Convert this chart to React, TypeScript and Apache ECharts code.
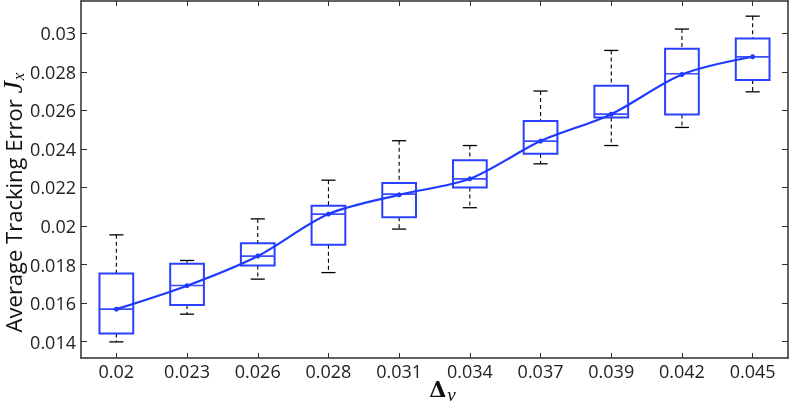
import React, { useEffect, useRef } from "react";
import * as echarts from "echarts";

const categories = ["0.02", "0.023", "0.026", "0.028", "0.031", "0.034", "0.037", "0.039", "0.042", "0.045"];
const whiskerLow = [0.01398, 0.01542, 0.01724, 0.01758, 0.01984, 0.02095, 0.02323, 0.02418, 0.02512, 0.02697];
const q1 = [0.01442, 0.01589, 0.01795, 0.01902, 0.02046, 0.022, 0.02375, 0.02564, 0.02579, 0.02759];
const median = [0.01568, 0.01691, 0.01844, 0.02062, 0.02166, 0.02245, 0.02441, 0.02581, 0.02791, 0.02879];
const q3 = [0.01753, 0.01804, 0.01911, 0.02105, 0.02223, 0.02342, 0.02545, 0.02728, 0.02921, 0.02974];
const whiskerHigh = [0.01954, 0.01821, 0.02037, 0.02238, 0.02443, 0.02418, 0.02701, 0.02912, 0.03023, 0.0309];
const mean = [0.01568, 0.0169, 0.01844, 0.02062, 0.02162, 0.02245, 0.02441, 0.02581, 0.02787, 0.02879];
const yTicks = [0.014, 0.016, 0.018, 0.02, 0.022, 0.024, 0.026, 0.028, 0.03];
const yMin = 0.013143;
const yMax = 0.031688;

const BOX_BLUE = "#2b40ff";
const LINE_BLUE = "#1f3aff";
const AXIS = "#2e2e2e";
const FONT = "Open Sans";

export default function App() {
  const ref = useRef<HTMLDivElement>(null);
  useEffect(() => {
    if (!ref.current) return;
    const chart = echarts.init(ref.current, null, { renderer: "svg" });
    const boxData = categories.map((_, i) => [i, whiskerLow[i], q1[i], median[i], q3[i], whiskerHigh[i]]);
    const fmt = (v: number) => String(+Number(v).toFixed(3));
    chart.setOption({
      animation: false,
      grid: { left: 81, right: 1, top: 1, bottom: 46, containLabel: false, outerBoundsMode: "none" },
      xAxis: [
        {
          type: "category",
          data: categories,
          position: "bottom",
          boundaryGap: true,
          axisLine: { show: true, lineStyle: { color: AXIS, width: 1.5 } },
          axisTick: { show: true, inside: true, alignWithLabel: true, length: 5, lineStyle: { color: AXIS, width: 1 } },
          axisLabel: { fontSize: 18, color: "#222", fontFamily: FONT, margin: 4 },
          splitLine: { show: false },
          name: "{d|Δ}{s|v}",
          nameLocation: "middle",
          nameGap: 15,
          nameMoveOverlap: false,
          nameTextStyle: {
            padding: [0, 0, 0, 16],
            rich: {
              d: { fontFamily: "DejaVu Serif", fontWeight: "bold", fontSize: 22, color: "#111" },
              s: { fontFamily: "Liberation Serif", fontStyle: "italic", fontSize: 19, color: "#111", padding: [12, 0, 0, 1] },
            },
          },
        },
        {
          type: "category",
          data: categories,
          position: "top",
          boundaryGap: true,
          axisLine: { show: true, lineStyle: { color: AXIS, width: 1.5 } },
          axisTick: { show: true, inside: true, alignWithLabel: true, length: 5, lineStyle: { color: AXIS, width: 1 } },
          axisLabel: { show: false },
          splitLine: { show: false },
        },
      ],
      yAxis: [
        {
          type: "value",
          min: yMin,
          max: yMax,
          position: "left",
          axisLine: { show: true, lineStyle: { color: AXIS, width: 1.5 } },
          axisTick: { show: true, inside: true, length: 6, customValues: yTicks, lineStyle: { color: AXIS, width: 1 } },
          axisLabel: { customValues: yTicks, formatter: fmt, fontSize: 18, color: "#222", fontFamily: FONT, margin: 5 },
          splitLine: { show: false },
          name: "{a|Average Tracking Error }{j|J}{x|x}",
          nameLocation: "middle",
          nameRotate: 90,
          nameGap: 54,
          nameMoveOverlap: false,
          nameTextStyle: {
            padding: [0, 46, 0, 0],
            rich: {
              a: { fontFamily: FONT, fontSize: 22, color: "#111" },
              j: { fontFamily: "Liberation Serif", fontStyle: "italic", fontSize: 28, color: "#111" },
              x: { fontFamily: "Liberation Serif", fontStyle: "italic", fontSize: 17, color: "#111", padding: [12, 0, 0, 1] },
            },
          },
        },
        {
          type: "value",
          min: yMin,
          max: yMax,
          position: "right",
          axisLine: { show: true, lineStyle: { color: AXIS, width: 1.5 } },
          axisTick: { show: true, inside: true, length: 6, customValues: yTicks, lineStyle: { color: AXIS, width: 1 } },
          axisLabel: { show: false },
          splitLine: { show: false },
        },
      ],
      series: [
        {
          type: "custom",
          xAxisIndex: 0,
          yAxisIndex: 0,
          data: boxData,
          encode: { x: 0, y: [1, 2, 3, 4, 5] },
          renderItem: (params: any, api: any) => {
            const idx = api.value(0);
            const lo = api.coord([idx, api.value(1)]);
            const a = api.coord([idx, api.value(2)]);
            const m = api.coord([idx, api.value(3)]);
            const b = api.coord([idx, api.value(4)]);
            const hi = api.coord([idx, api.value(5)]);
            const band = api.size([1, 0])[0];
            const bw = band * 0.477;
            const cw = band * 0.2;
            const x = lo[0];
            const dash = { stroke: "#000", lineWidth: 1.1, lineDash: [4, 3], fill: null };
            const cap = { stroke: "#000", lineWidth: 1.3, fill: null };
            return {
              type: "group",
              children: [
                { type: "line", shape: { x1: x, y1: hi[1], x2: x, y2: b[1] }, style: dash },
                { type: "line", shape: { x1: x, y1: a[1], x2: x, y2: lo[1] }, style: dash },
                { type: "line", shape: { x1: x - cw / 2, y1: hi[1], x2: x + cw / 2, y2: hi[1] }, style: cap },
                { type: "line", shape: { x1: x - cw / 2, y1: lo[1], x2: x + cw / 2, y2: lo[1] }, style: cap },
                {
                  type: "rect",
                  shape: { x: x - bw / 2, y: b[1], width: bw, height: a[1] - b[1] },
                  style: { stroke: BOX_BLUE, lineWidth: 2, fill: "#fff" },
                },
                {
                  type: "line",
                  shape: { x1: x - bw / 2, y1: m[1], x2: x + bw / 2, y2: m[1] },
                  style: { stroke: "#3a4dff", lineWidth: 1.7 },
                },
              ],
            };
          },
          z: 2,
        },
        {
          type: "line",
          xAxisIndex: 0,
          yAxisIndex: 0,
          data: mean,
          smooth: 0.3,
          symbol: "circle",
          symbolSize: 5,
          itemStyle: { color: LINE_BLUE },
          lineStyle: { color: LINE_BLUE, width: 2.2 },
          z: 3,
        },
      ],
    });
    return () => chart.dispose();
  }, []);
  return <div ref={ref} style={{ position: "fixed", left: 0, top: 0, width: 789, height: 404 }} />;
}
